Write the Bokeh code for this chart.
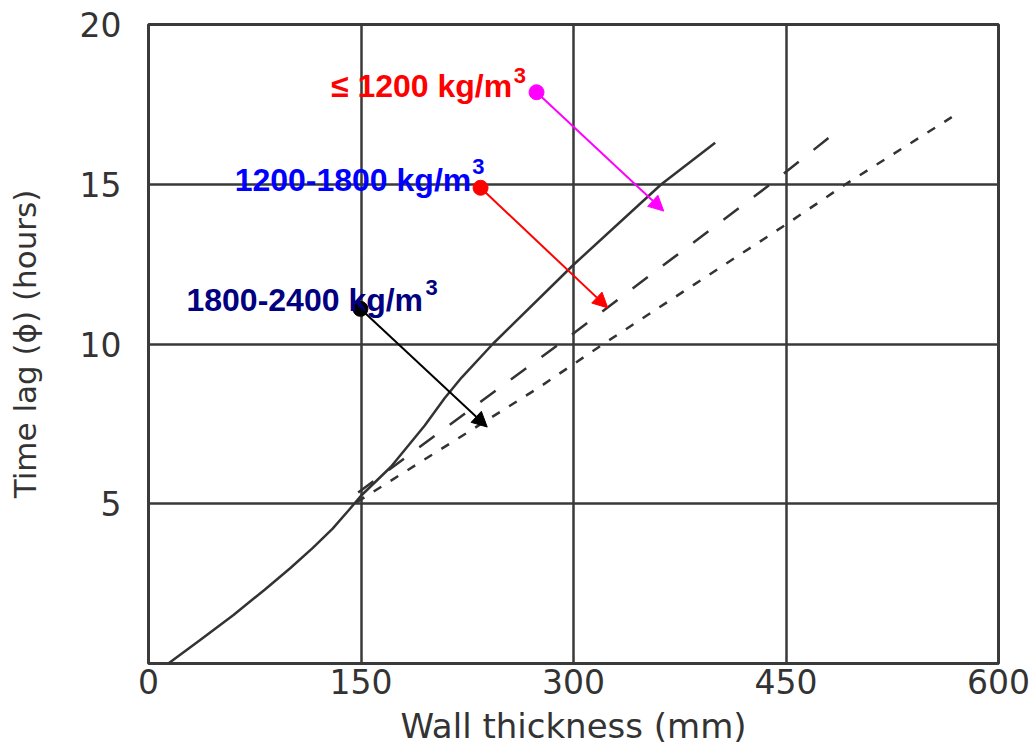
from bokeh.plotting import figure
from bokeh.models import Range1d, FixedTicker, Arrow, NormalHead
from bokeh.core.properties import value
from bokeh.embed import file_html
from bokeh.resources import INLINE

# ---- data ----
x_ticks = [0, 150, 300, 450, 600]
y_ticks = [5, 10, 15, 20]

# solid curve (<= 1200 kg/m3)
wall_solid = [14, 36, 60, 82, 100, 116, 130, 141, 150, 171, 195, 209, 221, 243, 300, 362, 400]
lag_solid = [0, 0.72, 1.52, 2.31, 2.98, 3.62, 4.22, 4.78, 5.25, 6.15, 7.45, 8.3, 8.95, 10.0, 12.48, 15.0, 16.3]

# long-dashed curve (1200-1800 kg/m3)
wall_dash = [148, 250, 290, 439, 490]
lag_dash = [5.35, 8.7, 10.0, 15.0, 16.8]

# short-dashed curve (1800-2400 kg/m3)
wall_dot = [147, 276, 321, 450, 492, 567]
lag_dot = [5.05, 8.65, 10.0, 13.74, 15.0, 17.1]

# annotation labels
label_text = ["\u2264 1200 kg/m", "1200-1800 kg/m", "1800-2400 kg/m"]
label_x = [128.8, 60.8, 26.8]
label_y = [18.09, 15.14, 11.38]
label_color = ["#ff0000", "#0000ff", "#000080"]
sup_text = ["3", "3", "3"]
sup_x = [257.9, 228.5, 195.5]
sup_y = [18.40, 15.56, 11.78]

# arrows
arrow_x0 = [273.9, 234.4, 149.6]
arrow_y0 = [17.88, 14.89, 11.10]
arrow_x1 = [363.7, 324.2, 239.1]
arrow_y1 = [14.16, 11.13, 7.40]
arrow_color = ["#ff00ff", "#ff0000", "#000000"]

GRID = "#3a3a3a"
TXT = "#333333"

p = figure(width=1031, height=749, x_range=Range1d(0, 600), y_range=Range1d(0, 20),
           output_backend="svg", toolbar_location=None,
           min_border_left=148, min_border_right=33, min_border_top=24, min_border_bottom=86)
p.background_fill_color = "white"
p.border_fill_color = "white"
p.outline_line_color = GRID
p.outline_line_width = 3

for ax in (p.xaxis, p.yaxis):
    ax.axis_line_color = None
    ax.major_tick_line_color = None
    ax.minor_tick_line_color = None
    ax.major_tick_out = 0
    ax.major_tick_in = 0
    ax.major_label_text_font = "DejaVu Sans"
    ax.major_label_text_font_size = "33px"
    ax.major_label_text_color = TXT
    ax.axis_label_text_font = "DejaVu Sans"
    ax.axis_label_text_font_style = "normal"
    ax.axis_label_text_color = TXT

p.xaxis.ticker = FixedTicker(ticks=x_ticks)
p.yaxis.ticker = FixedTicker(ticks=y_ticks)
p.xaxis.major_label_standoff = 5
p.xaxis.axis_label = "Wall thickness (mm)"
p.xaxis.axis_label_text_font_size = "34px"
p.xaxis.axis_label_standoff = 9
p.yaxis.major_label_standoff = 27
p.yaxis.axis_label = "Time lag (\u03d5) (hours)"
p.yaxis.axis_label_text_font_size = "31px"
p.yaxis.axis_label_standoff = 34

p.xgrid.ticker = FixedTicker(ticks=x_ticks)
p.ygrid.ticker = FixedTicker(ticks=y_ticks)
for g in (p.xgrid, p.ygrid):
    g.grid_line_color = GRID
    g.grid_line_width = 2.5

p.line(wall_solid, lag_solid, line_color="#333333", line_width=2.5)
p.line(wall_dash, lag_dash, line_color="#333333", line_width=2.5, line_dash="19 19")
p.line(wall_dot, lag_dot, line_color="#333333", line_width=2.5, line_dash="9 11")

for i in range(3):
    c = arrow_color[i]
    p.add_layout(Arrow(end=NormalHead(size=15, fill_color=c, line_color=c),
                       x_start=arrow_x0[i], y_start=arrow_y0[i],
                       x_end=arrow_x1[i], y_end=arrow_y1[i],
                       line_color=c, line_width=2))
p.scatter(arrow_x0, arrow_y0, size=15, color=arrow_color)

p.text(x=label_x, y=label_y, text=label_text, text_color=label_color,
       text_font=value("Liberation Sans"), text_font_style="bold", text_font_size="32px",
       text_align="left", text_baseline="alphabetic")
p.text(x=sup_x, y=sup_y, text=sup_text, text_color=label_color,
       text_font=value("Liberation Sans"), text_font_style="bold", text_font_size="22px",
       text_align="left", text_baseline="alphabetic")

open("out.html", "w").write(file_html(p, INLINE))
